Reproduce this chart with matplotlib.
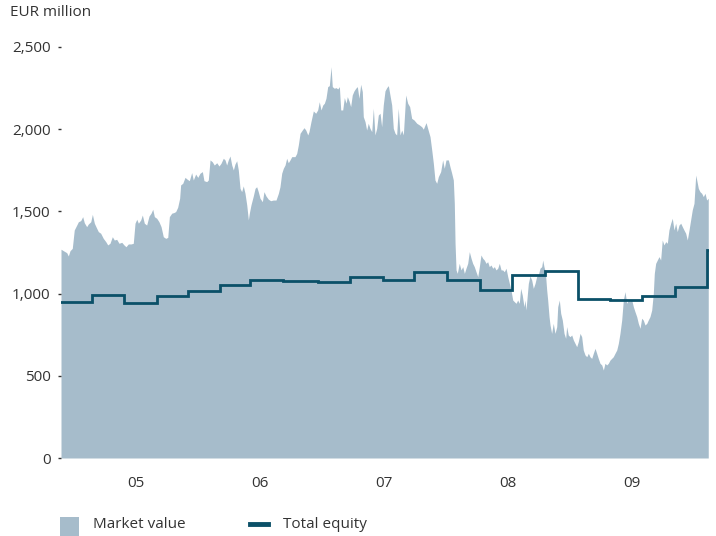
import matplotlib
matplotlib.use("Agg")
import matplotlib.pyplot as plt
from matplotlib.patches import Rectangle
from matplotlib.lines import Line2D

plt.rcParams["font.family"] = ["Open Sans", "DejaVu Sans"]

# Time in decimal years
mv_time = [
    2004.895, 2004.914, 2004.941, 2004.954, 2004.968, 2004.986, 2005.002, 2005.022,
    2005.035, 2005.054, 2005.070, 2005.083, 2005.102, 2005.115, 2005.135, 2005.148,
    2005.164, 2005.183, 2005.196, 2005.215, 2005.236, 2005.256, 2005.272, 2005.290,
    2005.309, 2005.325, 2005.344, 2005.363, 2005.385, 2005.403, 2005.419, 2005.438,
    2005.460, 2005.478, 2005.492, 2005.506, 2005.519, 2005.538, 2005.551, 2005.567,
    2005.586, 2005.605, 2005.621, 2005.635, 2005.648, 2005.667, 2005.685, 2005.702,
    2005.720, 2005.740, 2005.756, 2005.769, 2005.788, 2005.806, 2005.820, 2005.836,
    2005.852, 2005.860, 2005.877, 2005.895, 2005.914, 2005.930, 2005.949, 2005.962,
    2005.981, 2005.998, 2006.016, 2006.035, 2006.048, 2006.070, 2006.083, 2006.097,
    2006.115, 2006.131, 2006.151, 2006.169, 2006.185, 2006.204, 2006.218, 2006.231,
    2006.244, 2006.258, 2006.272, 2006.285, 2006.298, 2006.312, 2006.325, 2006.339,
    2006.352, 2006.365, 2006.379, 2006.393, 2006.406, 2006.414, 2006.427, 2006.446,
    2006.460, 2006.473, 2006.486, 2006.500, 2006.519, 2006.532, 2006.548, 2006.567,
    2006.586, 2006.607, 2006.629, 2006.648, 2006.661, 2006.675, 2006.688, 2006.702,
    2006.715, 2006.728, 2006.742, 2006.756, 2006.774, 2006.782, 2006.796, 2006.809,
    2006.823, 2006.841, 2006.855, 2006.869, 2006.885, 2006.895, 2006.911, 2006.930,
    2006.949, 2006.965, 2006.978, 2006.992, 2007.006, 2007.019, 2007.032, 2007.046,
    2007.059, 2007.073, 2007.083, 2007.099, 2007.113, 2007.127, 2007.140, 2007.151,
    2007.167, 2007.180, 2007.194, 2007.204, 2007.218, 2007.231, 2007.244, 2007.258,
    2007.272, 2007.285, 2007.298, 2007.312, 2007.325, 2007.333, 2007.347, 2007.360,
    2007.373, 2007.387, 2007.401, 2007.414, 2007.427, 2007.441, 2007.454, 2007.468,
    2007.481, 2007.494, 2007.508, 2007.522, 2007.535, 2007.548, 2007.562, 2007.575,
    2007.589, 2007.602, 2007.615, 2007.629, 2007.643, 2007.656, 2007.675, 2007.691,
    2007.707, 2007.723, 2007.742, 2007.764, 2007.785, 2007.804, 2007.817, 2007.839,
    2007.852, 2007.871, 2007.885, 2007.898, 2007.911, 2007.925, 2007.938, 2007.957,
    2007.973, 2007.986, 2008.000, 2008.019, 2008.032, 2008.046, 2008.059, 2008.067,
    2008.073, 2008.081, 2008.091, 2008.107, 2008.121, 2008.135, 2008.148, 2008.161,
    2008.175, 2008.188, 2008.202, 2008.215, 2008.228, 2008.242, 2008.256, 2008.269,
    2008.282, 2008.296, 2008.309, 2008.323, 2008.336, 2008.349, 2008.363, 2008.377,
    2008.390, 2008.403, 2008.417, 2008.430, 2008.444, 2008.457, 2008.470, 2008.484,
    2008.498, 2008.511, 2008.524, 2008.538, 2008.551, 2008.565, 2008.578, 2008.591,
    2008.602, 2008.615, 2008.629, 2008.637, 2008.645, 2008.664, 2008.677, 2008.691,
    2008.704, 2008.718, 2008.731, 2008.744, 2008.758, 2008.772, 2008.780, 2008.790,
    2008.801, 2008.812, 2008.820, 2008.831, 2008.839, 2008.852, 2008.865, 2008.879,
    2008.893, 2008.901, 2008.914, 2008.925, 2008.938, 2008.952, 2008.965, 2008.973,
    2008.986, 2009.000, 2009.014, 2009.027, 2009.040, 2009.054, 2009.067, 2009.081,
    2009.094, 2009.107, 2009.121, 2009.135, 2009.148, 2009.161, 2009.175, 2009.188,
    2009.202, 2009.215, 2009.228, 2009.242, 2009.256, 2009.269, 2009.282, 2009.296,
    2009.309, 2009.323, 2009.336, 2009.349, 2009.363, 2009.377, 2009.390, 2009.403,
    2009.417, 2009.430, 2009.444, 2009.457, 2009.470, 2009.484, 2009.498, 2009.511,
    2009.524, 2009.538, 2009.551, 2009.565, 2009.578, 2009.591, 2009.605, 2009.619,
    2009.631, 2009.645, 2009.659, 2009.672, 2009.680, 2009.691, 2009.704, 2009.718,
    2009.731, 2009.744, 2009.758, 2009.772, 2009.785, 2009.798, 2009.812, 2009.825,
    2009.839, 2009.852, 2009.865, 2009.879, 2009.893, 2009.906, 2009.919, 2009.933,
    2009.946, 2009.960, 2009.973, 2009.986, 2010.000, 2010.014, 2010.022, 2010.035,
    2010.048, 2010.062, 2010.075, 2010.089, 2010.102, 2010.115,
]

# Market value, EUR million
mv_value = [
    1270, 1261, 1249, 1229, 1261, 1275, 1387, 1417, 1437, 1444, 1468, 1431, 1407, 1423,
    1437, 1482, 1428, 1397, 1377, 1367, 1336, 1316, 1296, 1306, 1346, 1326, 1330, 1306,
    1312, 1296, 1285, 1302, 1302, 1306, 1428, 1452, 1428, 1448, 1478, 1428, 1417, 1472,
    1489, 1513, 1468, 1458, 1437, 1407, 1346, 1336, 1342, 1468, 1489, 1493, 1499, 1525,
    1580, 1661, 1671, 1707, 1695, 1687, 1736, 1691, 1727, 1707, 1732, 1742, 1687, 1681,
    1691, 1813, 1802, 1782, 1796, 1776, 1792, 1823, 1813, 1782, 1813, 1837, 1782, 1752,
    1788, 1808, 1752, 1640, 1620, 1655, 1610, 1539, 1448, 1489, 1539, 1594, 1640, 1650,
    1620, 1580, 1559, 1620, 1594, 1574, 1565, 1569, 1569, 1610, 1650, 1732, 1762, 1782,
    1823, 1796, 1813, 1833, 1833, 1833, 1853, 1904, 1975, 1995, 2009, 1995, 1965, 1985,
    2046, 2111, 2097, 2117, 2167, 2117, 2147, 2158, 2188, 2259, 2265, 2380, 2259, 2249,
    2253, 2245, 2259, 2117, 2117, 2192, 2158, 2198, 2172, 2137, 2208, 2233, 2249, 2259,
    2188, 2273, 2229, 2076, 2046, 1995, 2036, 2005, 1985, 2127, 1965, 2005, 2086, 2097,
    2015, 2147, 2233, 2253, 2265, 2208, 2147, 2005, 1975, 1965, 2127, 1965, 1995, 1965,
    2208, 2158, 2137, 2066, 2056, 2036, 2026, 2015, 2000, 2040, 2005, 1955, 1873, 1792,
    1691, 1671, 1711, 1742, 1813, 1762, 1813, 1813, 1772, 1732, 1691, 1549, 1306, 1144,
    1123, 1184, 1144, 1164, 1123, 1154, 1184, 1255, 1215, 1184, 1164, 1133, 1103, 1164,
    1235, 1215, 1204, 1184, 1194, 1164, 1174, 1154, 1164, 1144, 1154, 1184, 1144, 1144,
    1133, 1154, 1103, 1062, 1022, 961, 951, 941, 961, 941, 1032, 991, 920, 961,
    900, 1062, 1107, 1083, 1032, 1062, 1103, 1113, 1154, 1164, 1204, 1164, 1133, 1022,
    961, 860, 809, 758, 819, 758, 799, 920, 961, 880, 839, 758, 728, 799,
    748, 738, 748, 718, 698, 677, 708, 758, 738, 657, 627, 616, 637, 616,
    606, 637, 667, 637, 606, 576, 566, 535, 576, 566, 576, 596, 606, 616,
    637, 657, 698, 758, 839, 961, 1012, 941, 961, 951, 961, 920, 890, 860,
    819, 789, 850, 839, 809, 819, 839, 860, 900, 1002, 1123, 1184, 1204, 1225,
    1204, 1326, 1296, 1316, 1306, 1387, 1428, 1458, 1387, 1428, 1377, 1417, 1428, 1407,
    1387, 1367, 1326, 1387, 1448, 1509, 1549, 1721, 1691, 1640, 1620, 1610, 1590, 1610,
    1569, 1580,
]

# Total equity, EUR million: value valid from each start time until the next
eq_start = [
    2004.895, 2005.145, 2005.403, 2005.669, 2005.919, 2006.177, 2006.419, 2006.685,
    2006.968, 2007.226, 2007.492, 2007.742, 2008.008, 2008.274, 2008.532, 2008.798,
    2009.065, 2009.323, 2009.581, 2009.847, 2010.105,
]
eq_value = [
    949, 991, 943, 985, 1016, 1052, 1080, 1077, 1072, 1098, 1082, 1130, 1081,
    1020, 1115, 1136, 969, 963, 985, 1040, 1265,
]
period_end = 2010.121

year_labels = ["05", "06", "07", "08", "09"]
label_years = [2005, 2006, 2007, 2008, 2009]
y_ticks = [0, 500, 1000, 1500, 2000, 2500]

area_color = "#a6bccb"
line_color = "#0b5068"
text_color = "#333333"

fig = plt.figure(figsize=(7.16, 5.36), dpi=100)
ax = fig.add_axes([61 / 716, 1 - 458 / 536, 648 / 716, 411 / 536])

ax.fill_between(mv_time, mv_value, 0, color=area_color, linewidth=0)
ax.step(eq_start + [period_end], eq_value + [eq_value[-1]], where="post",
        color=line_color, linewidth=2.0, solid_joinstyle="miter")

ax.set_xlim(mv_time[0], period_end)
ax.set_ylim(0, 2500)
for side in ax.spines.values():
    side.set_visible(False)

ax.set_yticks(y_ticks)
ax.set_yticklabels([f"{v:,}" for v in y_ticks])
ax.tick_params(axis="y", length=2.5, width=1.0, color=text_color, pad=5,
               labelsize=11, labelcolor=text_color)
ax.set_xticks([y + 0.5 for y in label_years])
ax.set_xticklabels(year_labels)
ax.tick_params(axis="x", length=0, pad=13, labelsize=11, labelcolor=text_color)

fig.text(10 / 716, 1 - 13 / 536, "EUR million", fontsize=11, color=text_color,
         ha="left", va="center")

# Legend
fig.patches.append(Rectangle((60 / 716, 1 - 536 / 536), 19 / 716, 19 / 536,
                             transform=fig.transFigure, facecolor=area_color,
                             edgecolor="none"))
fig.text(93 / 716, 1 - 524 / 536, "Market value", fontsize=11, color=text_color,
         ha="left", va="center")
fig.lines.append(Line2D([250 / 716, 268 / 716], [1 - 524 / 536, 1 - 524 / 536],
                        transform=fig.transFigure, color=line_color, linewidth=3.5))
fig.text(283 / 716, 1 - 524 / 536, "Total equity", fontsize=11, color=text_color,
         ha="left", va="center")

fig.savefig("out.png", dpi=100)
